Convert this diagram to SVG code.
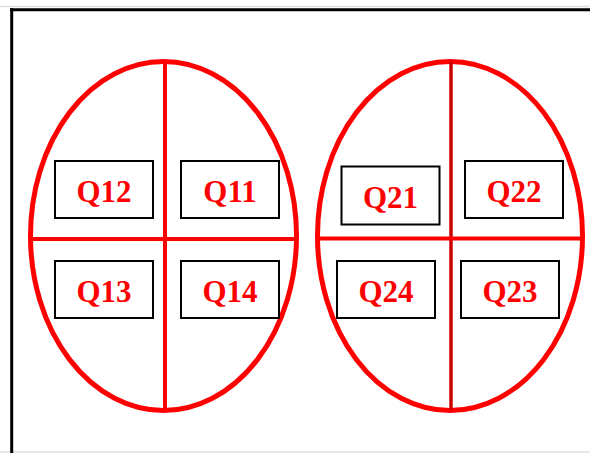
<svg xmlns="http://www.w3.org/2000/svg" width="590" height="453" viewBox="0 0 590 453">
<style>
.frame{stroke:#000;stroke-width:3;fill:none}
.edge{stroke:#e0e0e0;stroke-width:1.5;fill:none}
.oval{stroke:#ff0000;stroke-width:5;fill:none}
.div{stroke:#ff0000;stroke-width:4;fill:none}
.divd{stroke:#cc0000;stroke-width:3.5;fill:none}
.box{fill:#fff;stroke:#000;stroke-width:2}
.lbl{font-family:"Liberation Serif","Times New Roman",serif;font-weight:bold;font-size:31px;fill:#ff0000;text-anchor:middle}
</style>
<rect width="590" height="453" fill="#fff"/>
<line class="edge" x1="0" y1="6.5" x2="590" y2="6.5"/>
<line class="edge" x1="0" y1="452" x2="590" y2="452"/>
<line class="frame" x1="10" y1="9.7" x2="590" y2="9.7"/>
<line class="frame" x1="11.7" y1="8.2" x2="11.7" y2="453"/>
<g id="group1">
<ellipse class="oval" cx="163.5" cy="236" rx="133" ry="174.5"/>
<line class="div" x1="165" y1="61" x2="165" y2="410"/>
<line class="div" x1="30" y1="239" x2="297" y2="239"/>
</g>
<g id="group2">
<ellipse class="oval" cx="450" cy="236" rx="132.5" ry="174.5"/>
<line class="divd" x1="451" y1="61" x2="451" y2="410"/>
<line class="div" x1="317" y1="238.5" x2="583" y2="238.5"/>
</g>
<g id="Q12"><rect class="box" x="55" y="161" width="98" height="57"/><text class="lbl" x="104" y="202">Q12</text></g>
<g id="Q11"><rect class="box" x="181" y="161" width="98" height="57"/><text class="lbl" x="230" y="202">Q11</text></g>
<g id="Q13"><rect class="box" x="55" y="261" width="98" height="57"/><text class="lbl" x="104" y="302">Q13</text></g>
<g id="Q14"><rect class="box" x="181" y="261" width="98" height="57"/><text class="lbl" x="230" y="302">Q14</text></g>
<g id="Q21"><rect class="box" x="341.5" y="166.5" width="98" height="58"/><text class="lbl" x="390.5" y="208">Q21</text></g>
<g id="Q22"><rect class="box" x="465" y="161" width="98" height="57"/><text class="lbl" x="514" y="202">Q22</text></g>
<g id="Q24"><rect class="box" x="337" y="261" width="98" height="57"/><text class="lbl" x="386" y="302">Q24</text></g>
<g id="Q23"><rect class="box" x="461" y="261" width="98" height="57"/><text class="lbl" x="510" y="302">Q23</text></g>
</svg>
